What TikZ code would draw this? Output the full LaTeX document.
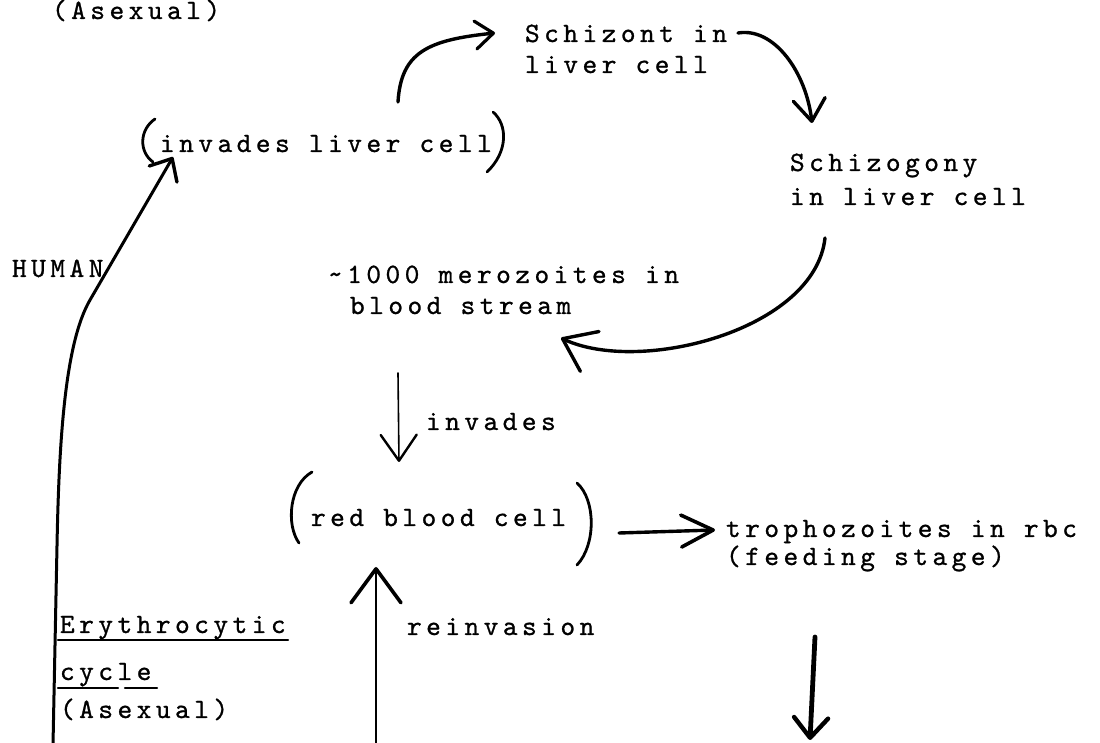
\documentclass[tikz,border=0pt]{standalone}
\usepackage{fontspec}
\newfontfamily\tw{lmmono10-regular}[Extension=.otf,LetterSpace=16,FakeBold=0.9]
\usetikzlibrary{arrows.meta,calc}
\begin{document}
\begin{tikzpicture}[x=0.5pt,y=-0.5pt,
  txt/.style={inner sep=0pt,outer sep=0pt,anchor=base west,font=\fontsize{14}{16}\tw},
  pen/.style={line width=1.7pt,line cap=round,line join=round},
  host/.style={line width=1.5pt,line cap=round,line join=round},
  fine/.style={line width=0.8pt,line cap=round,line join=round},
  paren/.style={line width=1.4pt,line cap=round},
  uline/.style={line width=1.1pt,line cap=round},
  barb/.style n args={3}{-{Straight Barb[length=#1,width=#2,line width=#3,round]}}
]
\useasboundingbox (0,0) rectangle (1100,743);

% typed labels
\node[txt] (asexTop)  at (52,19)   {(Asexual)};
\node[txt] (schizA)   at (525,42)  {Schizont in};
\node[txt] (schizB)   at (525,73)  {liver cell};
\node[txt] (invLiver) at (160,152) {invades liver cell};
\node[txt] (schgA)    at (790,171) {Schizogony};
\node[txt] (schgB)    at (790,205) {in liver cell};
\node[txt] (human)    at (12,277)  {HUMAN};
\node[txt] (meroA)    at (328,283) {\char126 1000 merozoites in};
\node[txt] (meroB)    at (350,314) {blood stream};
\node[txt] (invLbl)   at (426,430) {invades};
\node[txt] (rbc)      at (311,526) {red blood cell};
\node[txt] (trophA)   at (726,537) {trophozoites in rbc};
\node[txt] (trophB)   at (726,565) {(feeding stage)};
\node[txt] (reinv)    at (407,635) {reinvasion};
\node[txt] (ery)      at (60,633)  {Erythrocytic};
\node[txt] (cyc)      at (60,680)  {cycle};
\node[txt] (asexBot)  at (60,718)  {(Asexual)};

% free ends at the bottom edge
\coordinate (lineFoot)  at (53,745);
\coordinate (reinvFoot) at (376,745);
\coordinate (dropEnd)   at (810,740);

% hand-drawn brackets
\draw[paren] (155,119) .. controls (139,130) and (139,152) .. (153,162);
\draw[paren] (493,112) .. controls (508,125) and (508,152) .. (487,172);
\draw[paren] (312,472) .. controls (289,485) and (286,525) .. (299,543);
\draw[paren] (577,483) .. controls (596,500) and (596,545) .. (577,565);

% underlines
\draw[uline] ($(ery.base west)+(-2,7)$) -- ($(ery.base west)+(228,7)$);
\draw[uline] ($(cyc.base west)+(-2,8)$) -- ($(cyc.base west)+(58,8)$);
\draw[uline] ($(cyc.base west)+(65,8)$) -- ($(cyc.base west)+(97,8)$);

% liver stage
\draw[pen,barb={9pt}{14pt}{1.6pt}]
  ($(invLiver.base west)+(238,-50)$) .. controls +(3,-50) and +(-67,7) ..
  ($(schizA.base west)+(-30,-9)$);
\draw[pen,barb={11pt}{16pt}{1.7pt}]
  ($(schizA.base west)+(213,-9)$) .. controls +(36,-6) and +(-6,-51) ..
  ($(schgA.base west)+(22,-48)$);
\draw[pen,barb={15pt}{22pt}{1.7pt}]
  ($(schgB.base west)+(35,33)$) .. controls +(-10,92) and +(79,37) ..
  ($(meroB.base west)+(211,24)$);

% blood stage
\draw[fine,barb={13pt}{18pt}{1.2pt}]
  ($(meroB.base west)+(48,59)$) -- ($(rbc.base west)+(88,-64)$);
\draw[pen,barb={16pt}{16pt}{1.8pt}]
  ($(rbc.base west)+(308,7)$) -- ($(trophA.base west)+(-11,-7)$);
\draw[fine,barb={17pt}{25pt}{1.8pt}]
  (reinvFoot) -- ($(rbc.base west)+(65,41)$);
\draw[line width=2.4pt,line cap=round,barb={10pt}{17pt}{2.2pt}]
  ($(trophB.base west)+(89,72)$) -- (dropEnd);

% human host line
\draw[host,barb={9pt}{16pt}{1.7pt}]
  (lineFoot) -- (57,546) .. controls (59,440) and (65,343) .. (90,300)
  -- ($(invLiver.base west)+(13,5)$);
\end{tikzpicture}
\end{document}
